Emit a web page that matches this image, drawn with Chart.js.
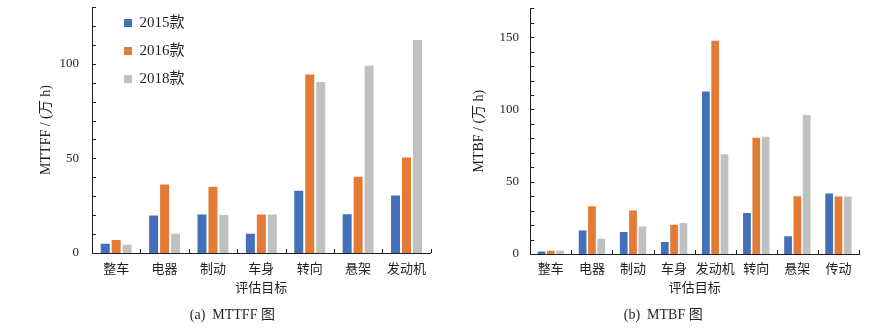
<!DOCTYPE html>
<html>
<head>
<meta charset="utf-8">
<script src="https://cdn.jsdelivr.net/npm/chart.js@4.4.1/dist/chart.umd.min.js"></script>
<style>
  body { margin: 0; background: #fff; }
  .row { display: flex; width: 881px; height: 333px; }
  canvas { display: block; }
</style>
</head>
<body>
<div class="row">
  <canvas id="mttff" width="440" height="333"></canvas>
  <canvas id="mtbf" width="441" height="333"></canvas>
</div>
<script>
// series and categories
const seriesNames = ["2015款", "2016款", "2018款"];
const seriesColors = ["#4270BA", "#E47B35", "#BFC0C0"];

const partsA = ["整车", "电器", "制动", "车身", "转向", "悬架", "发动机"];
const mttff2015 = [4.9, 19.8, 20.3, 10.2, 32.9, 20.5, 30.4];
const mttff2016 = [6.9, 36.2, 35, 20.3, 94.3, 40.3, 50.5];
const mttff2018 = [4.4, 10.2, 20.1, 20.3, 90.4, 99, 112.5];

const partsB = ["整车", "电器", "制动", "车身", "发动机", "转向", "悬架", "传动"];
const mtbf2015 = [1.8, 16.3, 15.2, 8.3, 112.4, 28.3, 12.2, 41.8];
const mtbf2016 = [2.3, 33.1, 30.1, 20.2, 147.6, 80.5, 40, 39.8];
const mtbf2018 = [2.3, 10.6, 19.1, 21.4, 69, 81.1, 96.1, 39.8];

const ink = "#231F20";
const serif = "'Liberation Serif', 'Noto Sans CJK SC', serif";
Chart.defaults.font.family = serif;
Chart.defaults.color = ink;

// short tick marks pointing into the plot area
const innerTicks = {
  id: "innerTicks",
  afterDraw(chart) {
    const { ctx, chartArea } = chart;
    const x = chart.scales.x, y = chart.scales.y;
    ctx.save();
    ctx.strokeStyle = ink;
    ctx.lineWidth = 1;
    ctx.beginPath();
    for (let v = y.min; v <= y.max; v += 10) {
      const py = Math.round(y.getPixelForValue(v)) + 0.5;
      ctx.moveTo(chartArea.left, py);
      ctx.lineTo(chartArea.left + 4, py);
    }
    for (let i = 0; i < x.getLabels().length; i++) {
      const px = Math.round(x.getPixelForValue(i + 0.5)) + 0.5;
      ctx.moveTo(px, chartArea.bottom);
      ctx.lineTo(px, chartArea.bottom - 4);
    }
    ctx.stroke();
    ctx.restore();
  },
};

// legend sits inside the plot, a little off the axis
const legendSpot = {
  id: "legendSpot",
  afterLayout(chart) {
    if (!chart.legend) return;
    chart.legend.left = chart.chartArea.left + 19;
    chart.legend.top = 2.5;
  },
};

function makeDatasets(a, b, c) {
  return [a, b, c].map((vals, i) => ({
    label: seriesNames[i],
    data: vals,
    backgroundColor: seriesColors[i],
    borderWidth: 0,
    categoryPercentage: 0.68,
    barPercentage: 0.82,
  }));
}

function renderChart(id, labels, datasets, opts) {
  const config = {
    type: "bar",
    data: { labels: labels, datasets: datasets },
    options: {
      responsive: false,
      animation: false,
      layout: { padding: opts.padding },
      plugins: {
        legend: {
          display: opts.legend,
          position: "chartArea",
          align: "start",
          labels: {
            boxWidth: 8,
            boxHeight: 8,
            padding: 13,
            color: ink,
            font: { size: 15 },
          },
        },
        title: {
          display: true,
          position: "bottom",
          text: opts.caption,
          color: ink,
          padding: 0,
          font: { size: 14, weight: "normal" },
        },
        tooltip: { enabled: false },
      },
      scales: {
        x: {
          grid: { display: false, drawTicks: false },
          border: { display: true, color: ink, width: 1 },
          ticks: {
            padding: opts.xPad,
            color: ink,
            font: { size: 13 },
            maxRotation: 0,
            autoSkip: false,
          },
          title: {
            display: true,
            text: "评估目标",
            color: ink,
            font: { size: 13 },
            padding: { top: 0, bottom: 10.5 },
          },
          afterFit(scale) {
            scale.height = opts.xHeight;
            scale.paddingLeft = 0;
            scale.paddingRight = 0;
          },
        },
        y: {
          min: 0,
          max: opts.max,
          grid: { display: false, drawTicks: false },
          border: { display: true, color: ink, width: 1 },
          ticks: {
            stepSize: 10,
            padding: opts.yPad,
            color: ink,
            font: { size: 13 },
            callback: (v) => (v % 50 === 0 && v !== opts.max ? v : null),
          },
          title: {
            display: true,
            text: opts.yTitle,
            color: ink,
            font: { size: 14 },
            padding: { top: 3.5, bottom: 0 },
          },
          afterFit(scale) {
            scale.width = opts.yWidth;
            scale.paddingTop = 0;
            scale.paddingBottom = 0;
          },
        },
      },
    },
    plugins: [innerTicks, legendSpot],
  };
  return new Chart(document.getElementById(id), config);
}

const setB = makeDatasets(mtbf2015, mtbf2016, mtbf2018);
setB.forEach((d) => (d.barPercentage = 0.83));

renderChart("mttff", partsA, makeDatasets(mttff2015, mttff2016, mttff2018), {
  padding: { left: 34, right: 9.3, top: 7, bottom: 9.6 },
  yWidth: 58,
  xHeight: 53.6,
  xPad: 9.2,
  yPad: 13,
  max: 130,
  yTitle: "MTTFF / (万 h)",
  caption: "(a)  MTTFF 图",
  legend: true,
});

renderChart("mtbf", partsB, setB, {
  padding: { left: 27.5, right: 22, top: 8.3, bottom: 9.6 },
  yWidth: 62.8,
  xHeight: 52.6,
  xPad: 8.2,
  yPad: 11.3,
  max: 170,
  yTitle: "MTBF / (万 h)",
  caption: "(b)  MTBF 图",
  legend: false,
});
</script>
</body>
</html>
